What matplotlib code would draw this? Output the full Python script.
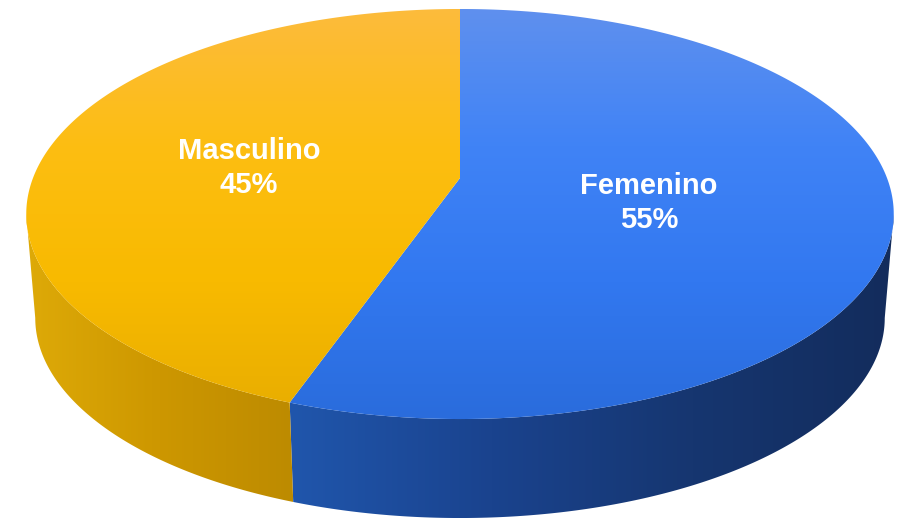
import numpy as np
import matplotlib
matplotlib.use("Agg")
import matplotlib.pyplot as plt
from matplotlib.colors import LinearSegmentedColormap
from matplotlib.patches import Polygon

categories = ["Femenino", "Masculino"]
values = [55.4, 44.6]

# top face colours, top to bottom of the ellipse
top_colors = [
    ["#5f90ee", "#4083f6", "#3278f0", "#2a6cdc"],
    ["#fcbb3c", "#fdbe12", "#f8ba00", "#e8ad00"],
]
# side colours, left to right
side_colors = [
    ["#2056ac", "#1a438e", "#163670", "#132c5c"],
    ["#deaa08", "#cd9700", "#bd8b00"],
]
label_pos = [(649, 203), (249, 168)]

K = 0.1756  # perspective strength


def top_xy(theta):
    """Point of the top face, theta clockwise from 12 o'clock, perspective on."""
    w = 1 + K * np.cos(theta)
    x = 427 * np.sin(theta) / w
    y = 198.7 * np.cos(theta) / w + 36
    return 460 + x, 214 - y


def bottom_xy(theta):
    x, y = top_xy(theta)
    return 460 + (x - 460) * 425 / 434, 318 + (y - 214) * 200 / 205


def gradient_patch(ax, points, colors, extent, vertical=True):
    cmap = LinearSegmentedColormap.from_list("g", colors)
    grad = np.linspace(0, 1, 256)
    grad = grad.reshape(-1, 1) if vertical else grad.reshape(1, -1)
    patch = Polygon(points, closed=True, fc="none", ec="none", transform=ax.transData)
    ax.add_patch(patch)
    im = ax.imshow(grad, cmap=cmap, extent=extent, aspect="auto", interpolation="bilinear")
    im.set_clip_path(patch)


fig = plt.figure(figsize=(9.1, 5.18), dpi=100, facecolor="white")
ax = fig.add_axes([0, 0, 1, 1])

ends = 2 * np.pi * np.cumsum(values) / np.sum(values)
starts = np.concatenate([[0], ends[:-1]])

# widest points of the top face in the picture, the sides hang from there
side_from = np.arccos(-K)
side_to = 2 * np.pi - side_from

for i in range(len(values)):
    t = np.linspace(max(starts[i], side_from), min(ends[i], side_to), 200)
    xt, yt = top_xy(t)
    xb, yb = bottom_xy(t)
    pts = np.column_stack([np.r_[xt, xb[::-1]], np.r_[yt, yb[::-1]]])
    gradient_patch(ax, pts, side_colors[i],
                   (pts[:, 0].min(), pts[:, 0].max(), 518, 200), vertical=False)

for i in range(len(values)):
    t = np.linspace(starts[i], ends[i], 300)
    xt, yt = top_xy(t)
    pts = np.column_stack([np.r_[460, xt], np.r_[178, yt]])
    gradient_patch(ax, pts, top_colors[i], (0, 910, 419, 9), vertical=True)

for name, val, pos in zip(categories, values, label_pos):
    ax.text(pos[0], pos[1], f"{name}\n{val:.0f}%", color="white", fontsize=21,
            fontweight="bold", family="Liberation Sans", ha="center", va="center",
            linespacing=1.25)

ax.set_xlim(0, 910)
ax.set_ylim(518, 0)
ax.axis("off")

fig.savefig("out.png", dpi=100)
